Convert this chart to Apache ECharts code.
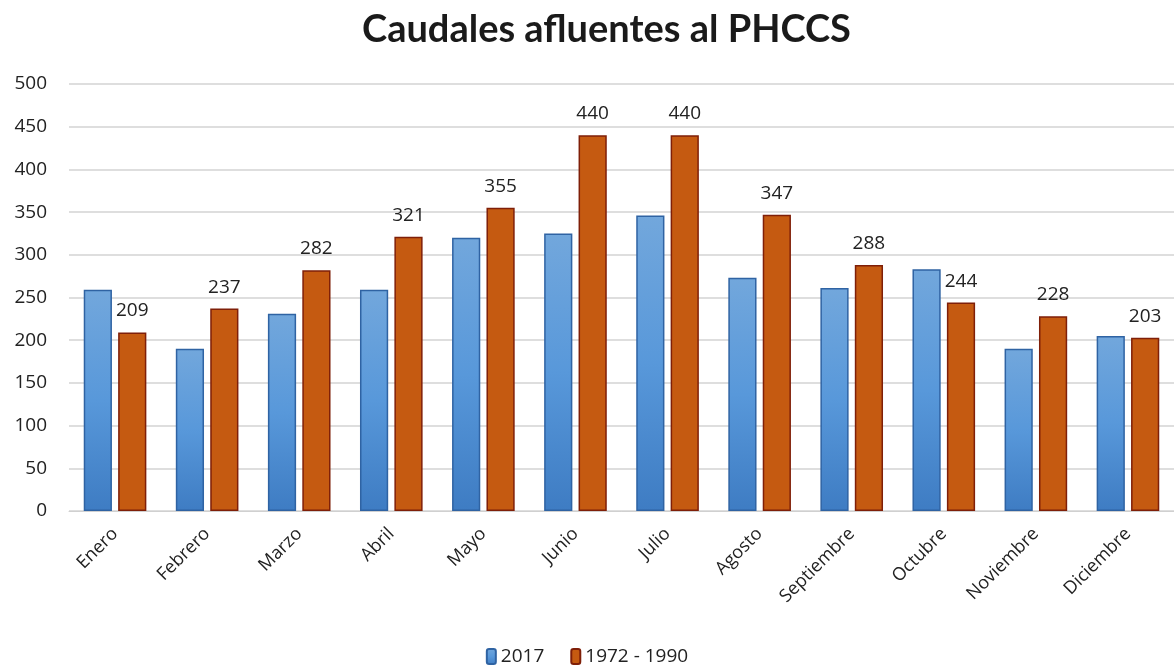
<!DOCTYPE html>
<html>
<head>
<meta charset="utf-8">
<script src="https://cdn.jsdelivr.net/npm/echarts@6/dist/echarts.min.js"></script>
<style>
  html, body { margin: 0; padding: 0; background: #fff; }
  #chart { width: 1174px; height: 671px; }
</style>
</head>
<body>
<div id="chart"></div>
<script>
const months = ['Enero', 'Febrero', 'Marzo', 'Abril', 'Mayo', 'Junio', 'Julio', 'Agosto', 'Septiembre', 'Octubre', 'Noviembre', 'Diciembre']
const values2017 = [259, 190, 231, 259, 320, 325, 346, 273, 261, 283, 190, 205]
const valuesHist = [209, 237, 282, 321, 355, 440, 440, 347, 288, 244, 228, 203]

const chart = echarts.init(document.getElementById('chart'))

const blueFill = new echarts.graphic.LinearGradient(0, 0, 0, 1, [
  { offset: 0, color: '#72a7dc' },
  { offset: 0.5, color: '#5898da' },
  { offset: 1, color: '#3e7cc3' }
])

const option = {
  backgroundColor: '#ffffff',
  title: {
    text: 'Caudales afluentes al PHCCS',
    left: 357,
    top: 6,
    textStyle: {
      fontFamily: 'Lato',
      fontWeight: 'bold',
      fontSize: 38,
      color: '#1a1a1a'
    }
  },
  legend: {
    bottom: 0,
    left: 'center',
    itemWidth: 9,
    itemHeight: 15,
    itemGap: 26,
    textStyle: {
      fontFamily: 'Open Sans',
      fontSize: 19,
      color: '#222'
    },
    data: ['2017', '1972 - 1990']
  },
  grid: {
    left: 69,
    right: -4,
    top: 84,
    bottom: 160
  },
  xAxis: {
    type: 'category',
    data: months,
    axisLine: { lineStyle: { color: '#d0d0d0' } },
    axisTick: { show: false },
    axisLabel: {
      rotate: 45,
      interval: 0,
      margin: 20,
      fontFamily: 'Open Sans',
      fontSize: 18,
      color: '#222'
    }
  },
  yAxis: {
    type: 'value',
    min: 0,
    max: 500,
    interval: 50,
    axisLine: { show: false },
    axisTick: { show: false },
    axisLabel: {
      margin: 22,
      fontFamily: 'Open Sans',
      fontSize: 19,
      color: '#222'
    },
    splitLine: { lineStyle: { color: '#d3d3d3', width: 1.5 } }
  },
  series: [
    {
      name: '2017',
      type: 'bar',
      data: values2017,
      barGap: '22%',
      barCategoryGap: '32%',
      itemStyle: {
        color: blueFill,
        borderColor: '#2f63a3',
        borderWidth: 1.5
      }
    },
    {
      name: '1972 - 1990',
      type: 'bar',
      data: valuesHist,
      itemStyle: {
        color: '#c55a11',
        borderColor: '#7f1f08',
        borderWidth: 1.5
      },
      label: {
        show: true,
        position: 'top',
        distance: 12,
        fontFamily: 'Open Sans',
        fontSize: 19,
        color: '#222'
      }
    }
  ]
}

chart.setOption(option)
</script>
</body>
</html>
